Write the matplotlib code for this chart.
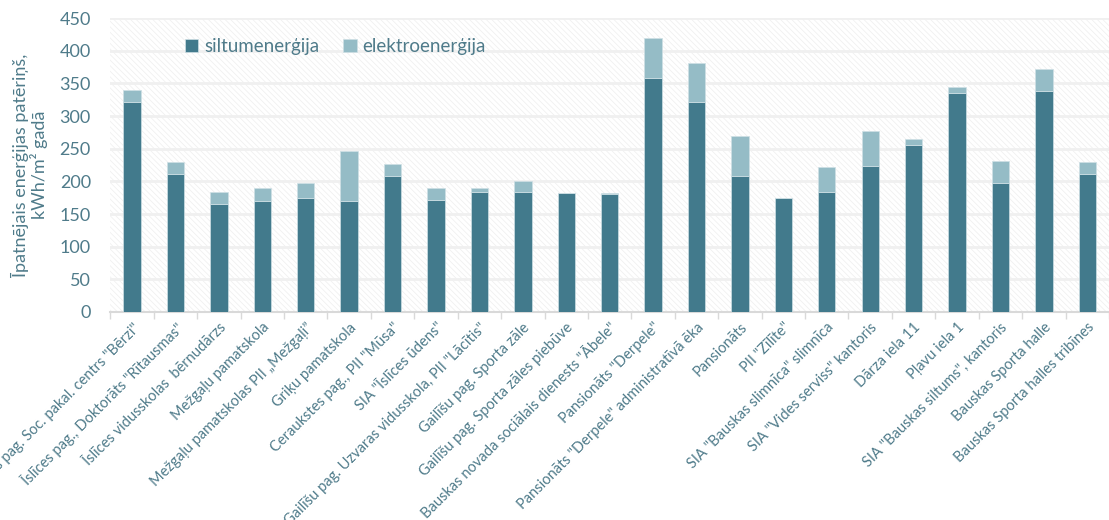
import matplotlib
matplotlib.use("Agg")
import matplotlib.pyplot as plt
import numpy as np
from matplotlib.patches import Rectangle

# ====== DATA ======
objekti = [
    'Īslīces pag. Soc. pakal. centrs "Bērzi"',
    'Īslīces pag., Doktorāts "Rītausmas"',
    'Īslīces vidusskolas  bērnudārzs',
    'Mežgaļu pamatskola',
    'Mežgaļu pamatskolas PII „Mežgaļi”',
    'Griķu pamatskola',
    'Ceraukstes pag., PII "Mūsa"',
    'SIA "Īslīces ūdens"',
    'Gailīšu pag. Uzvaras vidusskola, PII "Lācītis"',
    'Gailīšu pag. Sporta zāle',
    'Gailīšu pag. Sporta zāles piebūve',
    'Bauskas novada sociālais dienests "Ābele"',
    'Pansionāts "Derpele"',
    'Pansionāts "Derpele" administratīvā ēka',
    'Pansionāts',
    'PII "Zīlīte"',
    'SIA "Bauskas slimnīca" slimnīca',
    'SIA "Vides serviss" kantoris',
    'Dārza iela 11',
    'Pļavu iela 1',
    'SIA "Bauskas siltums", kantoris',
    'Bauskas Sporta halle',
    'Bauskas Sporta halles tribīnes',
]
siltumenergija = [322, 211, 166, 170, 174, 170, 209, 172, 184, 184, 183, 181,
                  358, 322, 209, 174, 184, 224, 256, 335, 197, 338, 211]
elektroenergija = [18, 18, 18, 20, 23, 77, 18, 18, 6, 16, 0, 1,
                   62, 59, 61, 0, 38, 53, 9, 9, 34, 34, 18]

y_ticks = [0, 50, 100, 150, 200, 250, 300, 350, 400, 450]

# ====== STYL ======
TEXT_COLOR = "#4F7B8A"
DARK = "#427A8C"
LIGHT = "#95BCC6"

plt.rcParams['font.family'] = ['Lato', 'DejaVu Sans']
plt.rcParams['hatch.linewidth'] = 0.5
plt.rcParams['hatch.color'] = "#EEEEEE"

fig = plt.figure(figsize=(11.09, 5.20), dpi=100)
ax = fig.add_axes([0.0995, 0.40, 0.9005, 0.565])

x = np.arange(len(objekti))

# šrafované pozadí
ax.add_patch(Rectangle((-0.5, 0), len(objekti), 450, facecolor="white",
                       edgecolor="#EEEEEE", hatch="\\\\\\\\\\\\", linewidth=0,
                       zorder=0))
for yv in y_ticks[1:]:
    ax.axhline(yv, color="#F0F0F0", linewidth=2.0, zorder=1)

ax.bar(x, siltumenergija, width=0.4, color=DARK, edgecolor="#CFE0E5",
       linewidth=0.5, label="siltumenerģija", zorder=3)
ax.bar(x, elektroenergija, width=0.4, bottom=siltumenergija, color=LIGHT,
       edgecolor="#CFE0E5", linewidth=0.5, label="elektroenerģija", zorder=3)

ax.set_xlim(-0.5, len(objekti) - 0.5)
ax.set_ylim(0, 450)
ax.set_yticks(y_ticks)
ax.tick_params(axis="y", length=0, labelsize=13, labelcolor=TEXT_COLOR, pad=14)

ax.set_xticks(x)
ax.set_xticklabels(objekti, rotation=45, ha="right", rotation_mode="anchor",
                   fontsize=10.5, color=TEXT_COLOR)
ax.tick_params(axis="x", which="major", length=0, pad=6)
ax.set_xticks(np.arange(-0.5, len(objekti), 1.0), minor=True)
ax.tick_params(axis="x", which="minor", length=5, color="#D9D9D9", width=1)

for s in ["top", "right", "left"]:
    ax.spines[s].set_visible(False)
ax.spines["bottom"].set_color("#D9D9D9")
ax.spines["bottom"].set_linewidth(1.5)

ax.set_ylabel("Īpatnējais enerģijas patēriņš,\nkWh/m² gadā", fontsize=13,
              color=TEXT_COLOR, labelpad=8, linespacing=1.1)

leg = ax.legend(loc="upper left", bbox_to_anchor=(0.058, 0.99), ncol=2,
                frameon=False, fontsize=13.5, handlelength=0.7, handleheight=0.7,
                columnspacing=1.3, handletextpad=0.3)
for t in leg.get_texts():
    t.set_color(TEXT_COLOR)

fig.savefig("out.png", dpi=100)
